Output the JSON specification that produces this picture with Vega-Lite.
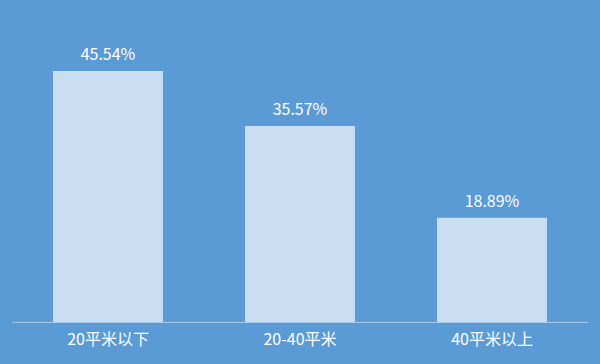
{
  "$schema": "https://vega.github.io/schema/vega-lite/v6.json",
  "width": 576,
  "height": 322,
  "autosize": {"type": "none"},
  "padding": {"left": 12, "right": 12, "top": 0, "bottom": 42},
  "background": "#5A9AD5",
  "config": {"view": {"stroke": null}, "font": "Noto Sans CJK SC"},
  "data": {"values": [
    {"cat": "20平米以下", "v": 45.54, "label": "45.54%"},
    {"cat": "20-40平米", "v": 35.57, "label": "35.57%"},
    {"cat": "40平米以上", "v": 18.89, "label": "18.89%"}
  ]},
  "encoding": {
    "x": {"field": "cat", "type": "nominal", "sort": null,
      "scale": {"paddingInner": 0.427, "paddingOuter": 0.2135},
      "axis": {"title": null, "labelAngle": 0, "labelColor": "#FFFFFF", "labelFontSize": 16, "labelPadding": 9,
        "ticks": false, "domainColor": "#A9CBEB", "domainWidth": 1, "labelFont": "Noto Sans CJK SC"}},
    "y": {"field": "v", "type": "quantitative", "scale": {"domain": [0, 58.4]}, "axis": null}
  },
  "layer": [
    {"mark": {"type": "bar", "fill": "#FFFFFF", "fillOpacity": 0.68}},
    {"mark": {"type": "text", "baseline": "bottom", "dy": -8, "color": "#FFFFFF", "fontSize": 16},
     "encoding": {"text": {"field": "label"}}}
  ]
}
